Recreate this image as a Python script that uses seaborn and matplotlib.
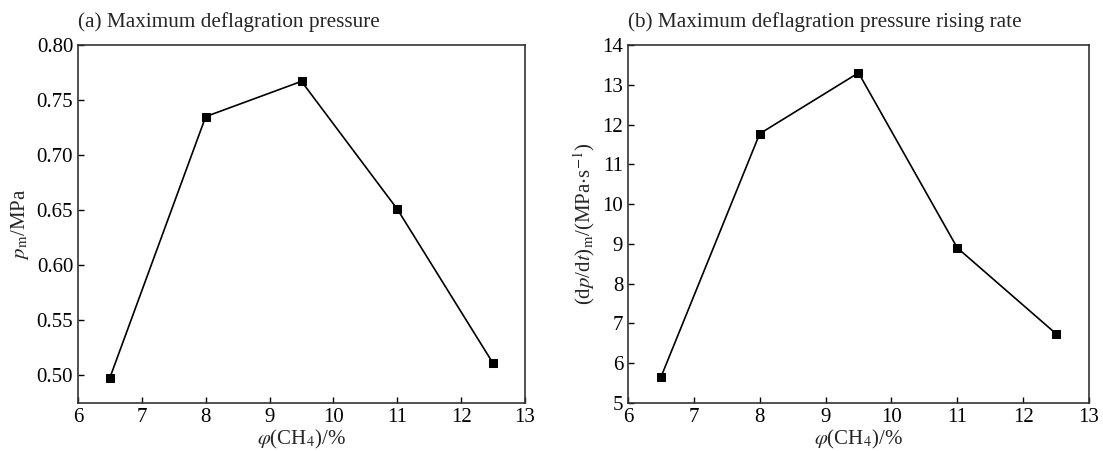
import matplotlib
matplotlib.use("Agg")
import matplotlib.pyplot as plt
import seaborn as sns
import pandas as pd

phi = [6.5, 8.0, 9.5, 11.0, 12.5]
pmax = [0.498, 0.735, 0.767, 0.651, 0.511]
rate = [5.65, 11.77, 13.30, 8.90, 6.74]

sns.set_theme(style="ticks")
plt.rcParams['font.family'] = ['Liberation Serif', 'DejaVu Serif']
plt.rcParams['mathtext.fontset'] = 'stix'

W, H = 1103, 451
fig = plt.figure(figsize=(W/100, H/100), dpi=100)
ax1 = fig.add_axes([78/W, 1-403/H, (525-78)/W, (403-45)/H])
ax2 = fig.add_axes([628/W, 1-403/H, (1089-628)/W, (403-45)/H])

df = pd.DataFrame({"phi": phi, "pmax": pmax, "rate": rate})

for ax, col in [(ax1, "pmax"), (ax2, "rate")]:
    sns.lineplot(data=df, x="phi", y=col, ax=ax, color="black", lw=1.2,
                 marker="s", markersize=6, markeredgecolor="black")
    ax.set_xlim(6, 13)
    ax.set_xticks(range(6, 14))
    ax.tick_params(direction="in", length=4, width=1, labelsize=15, colors="black")
    for s in ax.spines.values():
        s.set_color("#333333")
        s.set_linewidth(1.2)
    ax.set_xlabel(r"$\varphi$(CH$_4$)/%", fontsize=15, labelpad=1)

ax1.set_ylim(0.475, 0.80)
ax1.set_yticks([0.50, 0.55, 0.60, 0.65, 0.70, 0.75, 0.80])
ax1.set_yticklabels([f"{v:.2f}" for v in [0.50, 0.55, 0.60, 0.65, 0.70, 0.75, 0.80]])
ax1.set_ylabel(r"$p_{\rm m}$/MPa", fontsize=15, labelpad=4)
ax1.set_title("(a) Maximum deflagration pressure", fontsize=15.3, loc="left", x=0.0, pad=13)

ax2.set_ylim(5, 14)
ax2.set_yticks(range(5, 15))
ax2.set_ylabel(r"(d$p$/d$t$)$_{\rm m}$/(MPa$\cdot$s$^{-1}$)", fontsize=15, labelpad=4)
ax2.set_title("(b) Maximum deflagration pressure rising rate", fontsize=15.3, loc="left", x=0.0, pad=13)

fig.savefig("out.png", dpi=100)
